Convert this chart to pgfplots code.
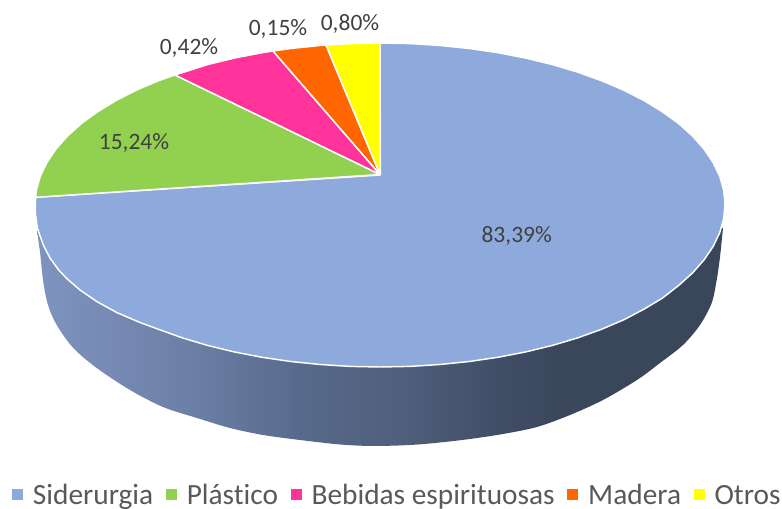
\documentclass[border=0pt]{standalone}
\usepackage{fontspec}
\setmainfont[Ligatures=NoCommon]{Carlito}
\usepackage{pgfplots}
\pgfplotsset{compat=1.18}
\definecolor{sid}{HTML}{8EA9DB}
\definecolor{pla}{HTML}{92D050}
\definecolor{beb}{HTML}{FF3399}
\definecolor{mad}{HTML}{FF6600}
\definecolor{otr}{HTML}{FFFF00}
\definecolor{lab}{HTML}{404040}
\definecolor{leg}{HTML}{595959}
\pgfdeclarehorizontalshading{sideshadeB}{100bp}{%
 rgb(0bp)=(0.494,0.580,0.745);
 rgb(25bp)=(0.494,0.580,0.745);
 rgb(31.8bp)=(0.455,0.530,0.690);
 rgb(36.9bp)=(0.416,0.490,0.640);
 rgb(44.2bp)=(0.345,0.416,0.549);
 rgb(51.5bp)=(0.310,0.373,0.486);
 rgb(58.8bp)=(0.255,0.302,0.400);
 rgb(63.1bp)=(0.227,0.278,0.357);
 rgb(75bp)=(0.227,0.278,0.357);
 rgb(100bp)=(0.227,0.278,0.357)}
\begin{document}
\begin{tikzpicture}
\begin{axis}[
  scale only axis, width=586.5pt, height=381.75pt,
  xmin=0, xmax=782, ymin=0, ymax=509, y dir=reverse,
  hide axis, clip=false,
  legend columns=5,
  legend cell align=left,
  legend image code/.code={\path[#1,draw=none] (0pt,-3pt) rectangle (8.25pt,5.25pt);},
  legend style={at={(0.0153,0.004)}, anchor=south west, draw=none, fill=none,
    inner sep=0pt, outer sep=0pt,
    font=\fontsize{22}{24}\selectfont\color{leg},
    nodes={inner sep=0pt, outer sep=0pt},
    /tikz/every odd column/.append style={column sep=7.5pt},
    /tikz/every even column/.append style={column sep=9.4pt}},
  every axis plot/.append style={line join=round},
]
\addplot[draw=none, forget plot] coordinates {(0,0) (782,509)};
% side wall
\addplot[draw=none, shade, shading=sideshadeB, forget plot, smooth, tension=0.5] coordinates {
 (37,228) (38.3,240) (40,252) (43.3,282) (48,305) (56.7,325) (73.3,348) (96.7,368) (130,390) (163,407) (197,418)
 (230,428) (263,435) (300,440) (340,444.5) (373,446) (410,445) (440,442.5) (470,439) (503,434) (537,427)
 (570,415) (603,400) (637,380) (660,363) (683,345) (700,325) (711.7,303) (716.7,280) (720,257) (723,228)};
% Siderurgia
\addplot[fill=sid, draw=white, line width=1.1pt] coordinates {
 (380.5,175) (380,43) (410.1,43.6) (439.9,45.5) (469.3,48.5) (498,52.7) (525.8,58.1) (552.5,64.6) (577.9,72.2)
 (601.8,80.8) (624,90.3) (644.3,100.7) (662.6,111.9) (678.8,123.7) (692.7,136.2) (704.2,149.3) (713.2,162.7)
 (719.8,176.5) (723.7,190.4) (725,204.5) (723.7,218.6) (719.8,232.5) (713.2,246.3) (704.2,259.7) (692.7,272.8)
 (678.8,285.3) (662.6,298) (644.3,309) (624,319.7) (601.8,329.2) (577.9,337.8) (552.5,345.4) (525.8,351.9)
 (498,357.3) (469.3,361.5) (439.9,364.5) (410.1,366.4) (380,367) (349.9,366.4) (320.1,364.5) (290.7,361.5)
 (262,357.3) (234.2,351.9) (207.5,345.4) (182.1,337.8) (158.2,329.2) (140,322.5) (116.7,312.5) (96.7,301.5)
 (80,290) (66.7,278.5) (58.3,269.5) (50,258) (43.3,245) (37.3,228) (35.5,214) (35.3,205) (35.7,197.3) (380.5,175)};
\addlegendentry{Siderurgia}
% Plastico
\addplot[fill=pla, draw=white, line width=1.1pt] coordinates {
 (380,174.5) (35.7,197.3) (36.3,190.4) (40.2,176.5) (46.8,162.7) (55.8,149.3) (67.3,136.2) (81.2,123.7)
 (97.4,111.9) (115.7,100.7) (136,90.3) (158.2,80.8) (175,75) (380,174.5)};
\addlegendentry{Plástico}
% Bebidas
\addplot[fill=beb, draw=white, line width=1.1pt] coordinates {
 (380,174.5) (175,75) (207.5,64.6) (234.2,58.1) (262,52.7) (273,51) (380,174.5)};
\addlegendentry{Bebidas espirituosas}
% Madera
\addplot[fill=mad, draw=white, line width=1.1pt] coordinates {
 (380,174.5) (273,51) (290.7,48.5) (320.1,45.5) (326,45) (380,174.5)};
\addlegendentry{Madera}
% Otros
\addplot[fill=otr, draw=white, line width=1.1pt] coordinates {
 (380,174.5) (326,45) (349.9,43.6) (380,43) (380,174.5)};
\addlegendentry{Otros}
\begin{scope}[every node/.style={font=\fontsize{17.6}{20}\selectfont, text=lab, anchor=base, inner sep=0pt}]
\node at (axis cs:516.7,242.7) {83,39\%};
\node at (axis cs:134,149.3) {15,24\%};
\node at (axis cs:189,54.3) {0,42\%};
\node at (axis cs:278,36) {0,15\%};
\node at (axis cs:350,31) {0,80\%};
\end{scope}
\end{axis}
\end{tikzpicture}
\end{document}
